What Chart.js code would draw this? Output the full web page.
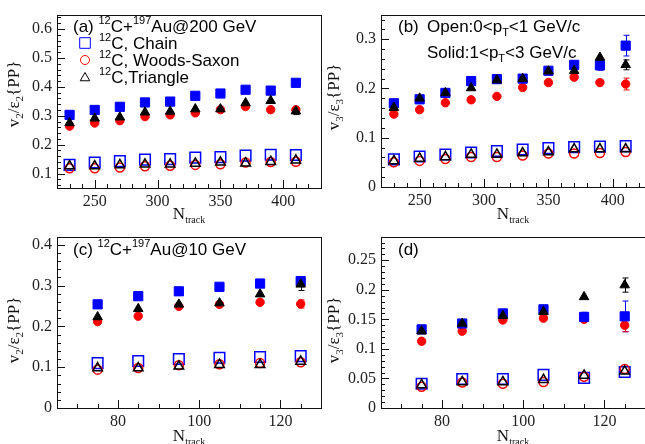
<!DOCTYPE html>
<html>
<head>
<meta charset="utf-8">
<script src="https://cdn.jsdelivr.net/npm/chart.js@4.4.1/dist/chart.umd.min.js"></script>
<style>
  html, body { margin: 0; padding: 0; overflow: hidden; background: #fff; width: 645px; height: 444px; }
  canvas { position: absolute; }
</style>
</head>
<body>
<canvas id="pa" width="330" height="232" style="left:0;top:0"></canvas>
<canvas id="pb" width="330" height="232" style="left:324px;top:0"></canvas>
<canvas id="pc" width="330" height="232" style="left:0;top:222px"></canvas>
<canvas id="pd" width="330" height="232" style="left:324px;top:222px"></canvas>
<script>
// N_track bins
const nTrackAu200 = [230, 250, 270, 290, 310, 330, 350, 370, 390, 410];
const nTrackAu10 = [75, 85, 95, 105, 115, 125];

// tick labels
const xTicksAu200 = [250, 300, 350, 400];
const xTicksAu10 = [80, 100, 120];
const yTicksA = [0.1, 0.2, 0.3, 0.4, 0.5, 0.6];
const yTicksB = [0, 0.1, 0.2, 0.3];
const yTicksC = [0, 0.1, 0.2, 0.3, 0.4];
const yTicksD = [0, 0.05, 0.1, 0.15, 0.2, 0.25];

// (a) v2/eps2, Au@200 GeV
const chainSolidA = [0.303, 0.320, 0.331, 0.346, 0.349, 0.369, 0.377, 0.390, 0.387, 0.414];
const wsSolidA    = [0.264, 0.275, 0.283, 0.297, 0.303, 0.310, 0.321, 0.332, 0.321, 0.321];
const triSolidA   = [0.275, 0.291, 0.295, 0.312, 0.315, 0.323, 0.323, 0.344, 0.352, 0.316];
const chainOpenA  = [0.130, 0.138, 0.143, 0.148, 0.150, 0.155, 0.157, 0.162, 0.165, 0.164];
const wsOpenA     = [0.118, 0.118, 0.121, 0.125, 0.127, 0.130, 0.132, 0.138, 0.140, 0.141];
const triOpenA    = [0.126, 0.126, 0.130, 0.132, 0.132, 0.135, 0.139, 0.136, 0.141, 0.146];
const triSolidErrA = [0, 0, 0, 0, 0, 0, 0, 0, 0, 0.012];
const wsSolidErrA  = [0, 0, 0, 0, 0, 0, 0, 0, 0, 0.006];

// (b) v3/eps3, Au@200 GeV
const chainSolidB = [0.170, 0.178, 0.191, 0.215, 0.219, 0.220, 0.236, 0.248, 0.247, 0.287];
const wsSolidB    = [0.148, 0.157, 0.171, 0.177, 0.184, 0.202, 0.212, 0.223, 0.212, 0.209];
const triSolidB   = [0.161, 0.180, 0.191, 0.201, 0.217, 0.220, 0.235, 0.236, 0.263, 0.248];
const chainOpenB  = [0.056, 0.062, 0.066, 0.070, 0.073, 0.076, 0.079, 0.081, 0.082, 0.083];
const wsOpenB     = [0.050, 0.053, 0.057, 0.061, 0.061, 0.064, 0.068, 0.068, 0.069, 0.071];
const triOpenB    = [0.053, 0.058, 0.061, 0.066, 0.066, 0.069, 0.071, 0.077, 0.077, 0.077];
const chainSolidErrB = [0, 0, 0, 0, 0, 0, 0, 0, 0.010, 0.021];
const triSolidErrB   = [0, 0.006, 0, 0, 0, 0, 0, 0, 0, 0.010];
const wsSolidErrB    = [0, 0, 0, 0, 0, 0, 0, 0, 0, 0.012];

// (c) v2/eps2, Au@10 GeV
const chainSolidC = [0.254, 0.274, 0.286, 0.297, 0.305, 0.311];
const wsSolidC    = [0.212, 0.225, 0.249, 0.254, 0.259, 0.255];
const triSolidC   = [0.223, 0.243, 0.254, 0.257, 0.279, 0.303];
const chainOpenC  = [0.110, 0.115, 0.120, 0.123, 0.125, 0.127];
const wsOpenC     = [0.094, 0.098, 0.105, 0.107, 0.110, 0.112];
const triOpenC    = [0.098, 0.098, 0.102, 0.106, 0.106, 0.114];
const chainSolidErrC = [0, 0, 0, 0, 0, 0.006];
const triSolidErrC   = [0, 0, 0, 0, 0, 0.015];
const wsSolidErrC    = [0, 0, 0, 0, 0, 0.010];

// (d) v3/eps3, Au@10 GeV
const chainSolidD = [0.133, 0.143, 0.160, 0.167, 0.154, 0.155];
const wsSolidD    = [0.113, 0.130, 0.149, 0.152, 0.150, 0.140];
const triSolidD   = [0.130, 0.143, 0.156, 0.163, 0.188, 0.208];
const chainOpenD  = [0.041, 0.049, 0.049, 0.056, 0.051, 0.061];
const wsOpenD     = [0.036, 0.043, 0.041, 0.044, 0.053, 0.066];
const triOpenD    = [0.039, 0.044, 0.044, 0.048, 0.055, 0.062];
const chainSolidErrD = [0, 0, 0, 0, 0.008, 0.026];
const triSolidErrD   = [0, 0, 0, 0, 0, 0.012];
const wsSolidErrD    = [0, 0, 0, 0, 0, 0.011];

const BLUE = '#0000ff';
const RED = '#ff0000';
const BLACK = '#000000';
const SANS = '"Liberation Sans", Arial, sans-serif';
const SERIF = '"Liberation Serif", "Times New Roman", serif';

const panelInfo = {};

function pts(xs, ys) {
  return xs.map((x, i) => ({ x: x, y: ys[i] }));
}

function drawRich(ctx, x, y, parts) {
  for (const p of parts) {
    ctx.font = p.font;
    ctx.fillText(p.t, x, y + (p.dy || 0));
    x += ctx.measureText(p.t).width;
  }
  return x;
}

function richWidth(ctx, parts) {
  let w = 0;
  for (const p of parts) { ctx.font = p.font; w += ctx.measureText(p.t).width; }
  return w;
}

function sup(t) { return { t: t, font: '11px ' + SANS, dy: -8 }; }
function sub(t) { return { t: t, font: '11px ' + SANS, dy: 4 }; }
function big(t) { return { t: t, font: '17px ' + SANS }; }

const rootStyle = {
  id: 'rootStyle',
  beforeDatasetsDraw(chart) {
    const ctx = chart.ctx;
    const ys = chart.scales.y;
    ctx.save();
    ctx.lineWidth = 1;
    chart.data.datasets.forEach((ds, i) => {
      const err = ds.errors;
      if (!err) return;
      const meta = chart.getDatasetMeta(i);
      ctx.strokeStyle = ds.borderColor;
      ds.data.forEach((p, j) => {
        if (!err[j]) return;
        const px = Math.round(meta.data[j].x) + 0.5;
        const y1 = ys.getPixelForValue(p.y + err[j]);
        const y2 = ys.getPixelForValue(p.y - err[j]);
        ctx.beginPath();
        ctx.moveTo(px, y1); ctx.lineTo(px, y2);
        ctx.moveTo(px - 3, y1); ctx.lineTo(px + 3, y1);
        ctx.moveTo(px - 3, y2); ctx.lineTo(px + 3, y2);
        ctx.stroke();
      });
    });
    ctx.restore();
  },
  afterDraw(chart) {
    const info = panelInfo[chart.canvas.id];
    const ctx = chart.ctx;
    const a = chart.chartArea;
    const xs = chart.scales.x, ys = chart.scales.y;
    ctx.save();
    // frame
    ctx.strokeStyle = '#111';
    ctx.lineWidth = 1;
    ctx.strokeRect(Math.round(a.left) + 0.5, Math.round(a.top) + 0.5,
      Math.round(a.right - a.left), Math.round(a.bottom - a.top));
    // inward ticks
    ctx.beginPath();
    const xStep = info.xMinor;
    for (let n = Math.ceil(xs.min / xStep); n * xStep <= xs.max + 1e-9; n++) {
      const v = n * xStep;
      const major = info.xTicks.some(t => Math.abs(t - v) < 1e-6);
      const px = Math.round(xs.getPixelForValue(v)) + 0.5;
      ctx.moveTo(px, a.bottom);
      ctx.lineTo(px, a.bottom - (major ? 8 : 4));
    }
    const yStep = info.yMinor;
    for (let n = Math.ceil(ys.min / yStep - 1e-6); n * yStep <= ys.max + 1e-9; n++) {
      const v = n * yStep;
      const major = info.yTicks.some(t => Math.abs(t - v) < 1e-6);
      const py = Math.round(ys.getPixelForValue(v)) + 0.5;
      ctx.moveTo(a.left, py);
      ctx.lineTo(a.left + (major ? 8 : 4), py);
    }
    ctx.stroke();

    // axis titles
    ctx.fillStyle = '#111';
    ctx.textBaseline = 'alphabetic';
    const xt = [{ t: 'N', font: '17px ' + SERIF }, { t: 'track', font: '10px ' + SERIF, dy: 4 }];
    const xw = richWidth(ctx, xt);
    drawRich(ctx, (a.left + a.right) / 2 - xw / 2, info.xTitleY, xt);

    const n = info.harm;
    const yt = [
      { t: 'v', font: '17px ' + SERIF },
      { t: n, font: '11px ' + SERIF, dy: 4 },
      { t: '/\u03b5', font: '17px ' + SERIF },
      { t: n, font: '11px ' + SERIF, dy: 4 },
      { t: '{PP}', font: '17px ' + SERIF }
    ];
    const yw = richWidth(ctx, yt);
    ctx.save();
    ctx.translate(info.yTitleX, info.yTitleY);
    ctx.rotate(-Math.PI / 2);
    drawRich(ctx, -yw / 2, 0, yt);
    ctx.restore();

    // annotations
    ctx.fillStyle = '#000';
    info.texts.forEach(tx => drawRich(ctx, tx.x, tx.y, tx.parts));

    // legend
    if (info.legend) {
      info.legend.forEach(l => {
        ctx.strokeStyle = l.color;
        ctx.fillStyle = 'rgba(0,0,0,0)';
        Chart.helpers.drawPoint(ctx, { pointStyle: l.style, radius: l.radius, rotation: 0, borderWidth: 1.5 }, l.mx, l.my);
        ctx.fillStyle = '#000';
        drawRich(ctx, l.tx, l.ty, [sup('12'), big(l.label)]);
      });
    }
    ctx.restore();
  }
};

function series(xs, ys, style, color, solid, errors, radius) {
  return {
    data: pts(xs, ys),
    pointStyle: style,
    pointRadius: radius,
    pointHoverRadius: radius,
    pointBackgroundColor: solid ? color : 'rgba(0,0,0,0)',
    pointBorderColor: color,
    pointBorderWidth: solid ? 1 : 1.5,
    borderColor: color,
    showLine: false,
    errors: errors
  };
}

function makePanel(id, p) {
  panelInfo[id] = p;
  const tickFont = { family: '"Liberation Serif", serif', size: 16 };
  return new Chart(document.getElementById(id), {
    type: 'scatter',
    data: {
      datasets: [
        series(p.xs, p.triOpen, 'triangle', BLACK, false, null, 5.5),
        series(p.xs, p.wsOpen, 'circle', RED, false, null, 4.5),
        series(p.xs, p.chainOpen, 'rect', BLUE, false, null, 7.5),
        series(p.xs, p.triSolid, 'triangle', BLACK, true, p.triErr, 5.5),
        series(p.xs, p.chainSolid, 'rect', BLUE, true, p.chainErr, 6.5),
        series(p.xs, p.wsSolid, 'circle', RED, true, p.wsErr, 4.2)
      ]
    },
    options: {
      responsive: false,
      animation: false,
      events: [],
      layout: { padding: { top: p.top, right: 7, left: 0, bottom: 0 } },
      plugins: { legend: { display: false }, tooltip: { enabled: false } },
      scales: {
        x: {
          type: 'linear', min: p.xMin, max: p.xMax,
          afterBuildTicks: s => { s.ticks = p.xTicks.map(v => ({ value: v })); },
          afterFit: s => { s.height = p.xAxisH; },
          grid: { display: false, drawTicks: false },
          border: { display: false },
          ticks: { font: tickFont, color: '#222', padding: 4, maxRotation: 0, autoSkip: false,
                   callback: v => String(v) }
        },
        y: {
          type: 'linear', min: p.yMin, max: p.yMax,
          afterBuildTicks: s => { s.ticks = p.yTicks.map(v => ({ value: v })); },
          afterFit: s => { s.width = 57; },
          grid: { display: false, drawTicks: false },
          border: { display: false },
          ticks: { font: tickFont, color: '#222', padding: 5, autoSkip: false,
                   callback: v => String(+v.toFixed(3)) }
        }
      }
    },
    plugins: [rootStyle]
  });
}

makePanel('pa', {
  xs: nTrackAu200, xMin: 220, xMax: 430, xTicks: xTicksAu200, xMinor: 10,
  yMin: 0.05, yMax: 0.65, yTicks: yTicksA, yMinor: 0.02,
  top: 12, xAxisH: 44, harm: '2', xTitleY: 219, yTitleX: 19, yTitleY: 94,
  chainSolid: chainSolidA, wsSolid: wsSolidA, triSolid: triSolidA,
  chainOpen: chainOpenA, wsOpen: wsOpenA, triOpen: triOpenA,
  chainErr: null, wsErr: wsSolidErrA, triErr: triSolidErrA,
  texts: [{ x: 73, y: 32, parts: [big('(a) '), sup('12'), big('C+'), sup('197'), big('Au@200 GeV')] }],
  legend: [
    { style: 'rect', radius: 7.5, color: BLUE, mx: 85, my: 43, tx: 99, ty: 49, label: 'C, Chain' },
    { style: 'circle', radius: 4.5, color: RED, mx: 85, my: 60, tx: 99, ty: 66, label: 'C, Woods-Saxon' },
    { style: 'triangle', radius: 5.5, color: BLACK, mx: 85, my: 78, tx: 99, ty: 83, label: 'C,Triangle' }
  ]
});

makePanel('pb', {
  xs: nTrackAu200, xMin: 220, xMax: 425, xTicks: xTicksAu200, xMinor: 10,
  yMin: 0, yMax: 0.35, yTicks: yTicksB, yMinor: 0.02,
  top: 10, xAxisH: 45, harm: '3', xTitleY: 219, yTitleX: 15, yTitleY: 97,
  chainSolid: chainSolidB, wsSolid: wsSolidB, triSolid: triSolidB,
  chainOpen: chainOpenB, wsOpen: wsOpenB, triOpen: triOpenB,
  chainErr: chainSolidErrB, wsErr: wsSolidErrB, triErr: triSolidErrB,
  texts: [
    { x: 74, y: 32, parts: [big('(b)')] },
    { x: 103, y: 32, parts: [big('Open:0<p'), sub('T'), big('<1 GeV/c')] },
    { x: 103, y: 58, parts: [big('Solid:1<p'), sub('T'), big('<3 GeV/c')] }
  ]
});

makePanel('pc', {
  xs: nTrackAu10, xMin: 65, xMax: 130, xTicks: xTicksAu10, xMinor: 5,
  yMin: 0, yMax: 0.42, yTicks: yTicksC, yMinor: 0.02,
  top: 10, xAxisH: 46, harm: '2', xTitleY: 219, yTitleX: 19, yTitleY: 108,
  chainSolid: chainSolidC, wsSolid: wsSolidC, triSolid: triSolidC,
  chainOpen: chainOpenC, wsOpen: wsOpenC, triOpen: triOpenC,
  chainErr: chainSolidErrC, wsErr: wsSolidErrC, triErr: triSolidErrC,
  texts: [{ x: 73, y: 33, parts: [big('(c) '), sup('12'), big('C+'), sup('197'), big('Au@10 GeV')] }]
});

makePanel('pd', {
  xs: nTrackAu10, xMin: 65, xMax: 130, xTicks: xTicksAu10, xMinor: 5,
  yMin: 0, yMax: 0.29, yTicks: yTicksD, yMinor: 0.01,
  top: 10, xAxisH: 46, harm: '3', xTitleY: 219, yTitleX: 15, yTitleY: 108,
  chainSolid: chainSolidD, wsSolid: wsSolidD, triSolid: triSolidD,
  chainOpen: chainOpenD, wsOpen: wsOpenD, triOpen: triOpenD,
  chainErr: chainSolidErrD, wsErr: wsSolidErrD, triErr: triSolidErrD,
  texts: [{ x: 74, y: 33, parts: [big('(d)')] }]
});
</script>
</body>
</html>
